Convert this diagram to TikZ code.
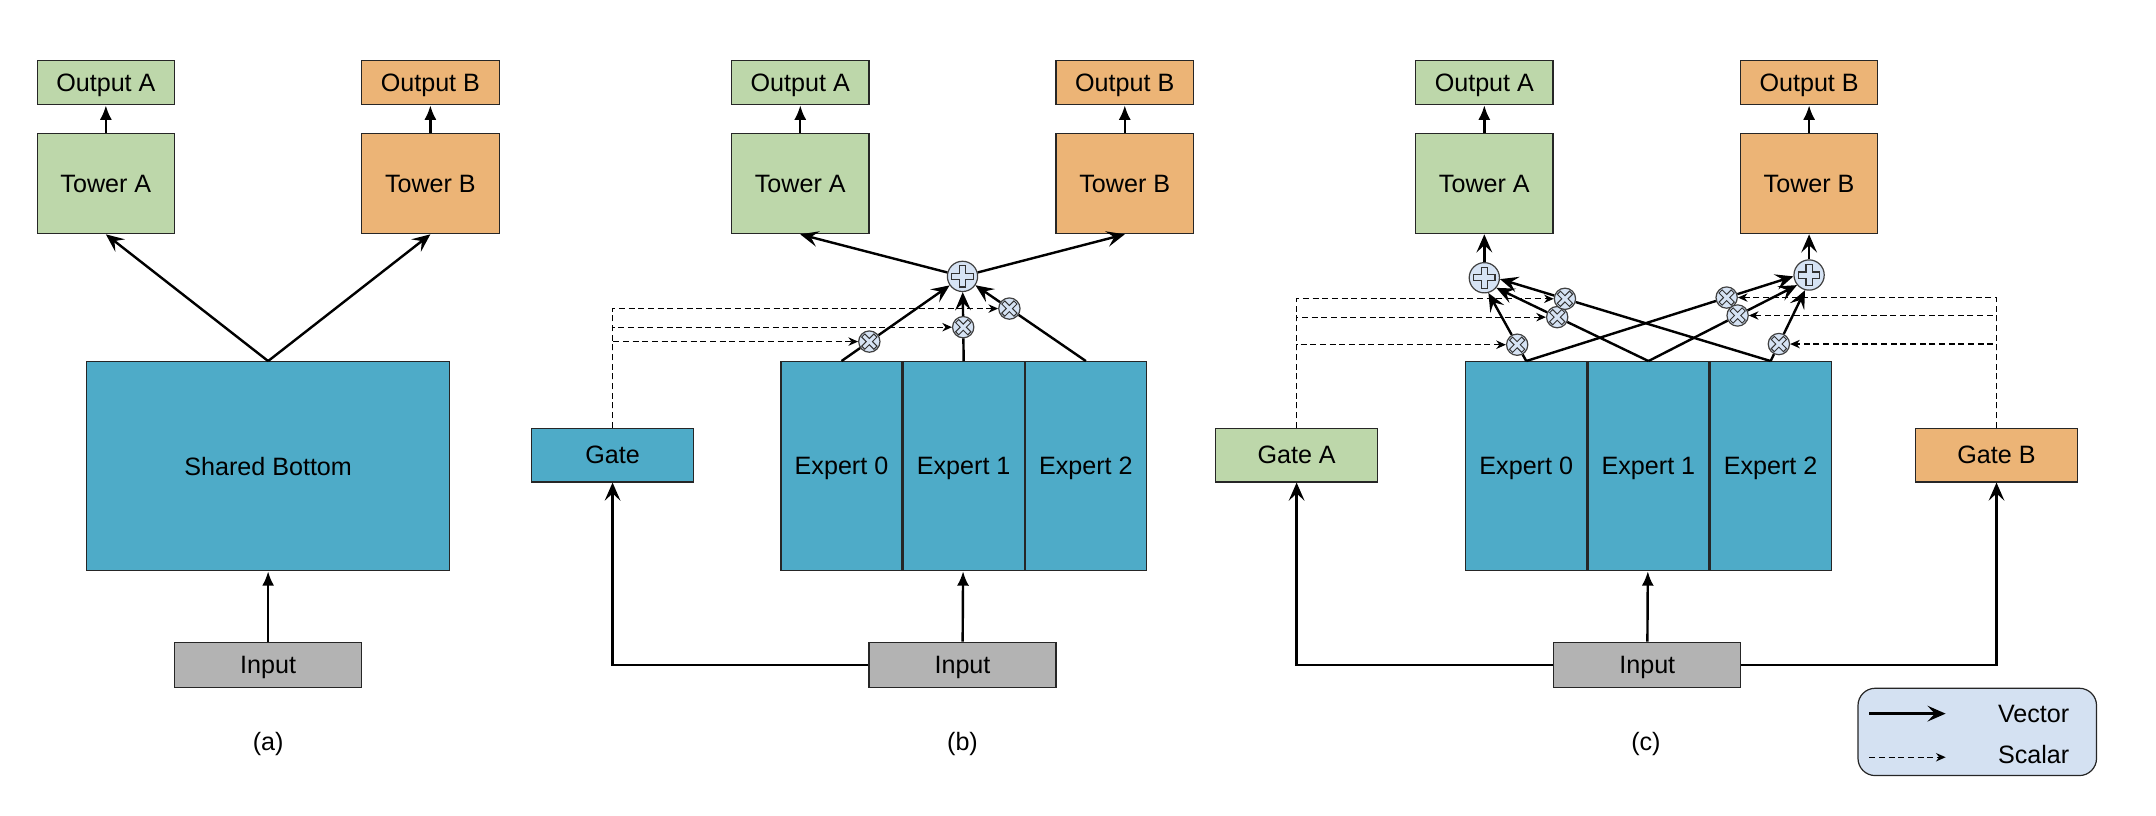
\documentclass[tikz,border=0pt]{standalone}
\usepackage{fontspec}
\setmainfont{Liberation Sans}
\usetikzlibrary{shapes,arrows,arrows.meta,positioning,calc}
\definecolor{towgreen}{HTML}{BDD7AA}
\definecolor{toworange}{HTML}{ECB476}
\definecolor{expblue}{HTML}{4EABC8}
\definecolor{ingray}{HTML}{B3B3B3}
\definecolor{opfill}{HTML}{D6E3F4}
\definecolor{legfill}{HTML}{D4E1F2}
\tikzstyle{block} = [rectangle, draw=black!85, line width=0.5pt, inner sep=0pt, text depth=0pt, text centered]
\tikzstyle{outbox} = [block, minimum width=2cm, minimum height=0.64cm]
\tikzstyle{tower} = [block, minimum width=2cm, minimum height=1.46cm]
\tikzstyle{expert} = [block, fill=expblue, minimum width=1.76cm, minimum height=3.04cm]
\tikzstyle{inbox} = [block, fill=ingray, minimum width=2.72cm, minimum height=0.66cm]
\tikzstyle{gatebox} = [block, minimum width=2.36cm, minimum height=0.78cm]
\tikzstyle{sumop} = [circle, draw=black!75, fill=opfill, line width=0.5pt, minimum size=0.44cm, inner sep=0pt,
  path picture={\draw[x=1mm, y=1mm, black!80, line width=0.5pt, fill=opfill, shift={(path picture bounding box.center)}]
    (-.45,1.55) -- (.45,1.55) -- (.45,.45) -- (1.55,.45) -- (1.55,-.45) -- (.45,-.45) -- (.45,-1.55)
    -- (-.45,-1.55) -- (-.45,-.45) -- (-1.55,-.45) -- (-1.55,.45) -- (-.45,.45) -- cycle;}]
\tikzstyle{multop} = [circle, draw=black!75, fill=opfill, line width=0.5pt, minimum size=0.31cm, inner sep=0pt,
  path picture={\draw[x=1mm, y=1mm, black!80, line width=0.4pt, fill=opfill, shift={(path picture bounding box.center)}]
    (-1.11,.66) -- (-.66,1.11) -- (0,.45) -- (.66,1.11) -- (1.11,.66) -- (.45,0) -- (1.11,-.66)
    -- (.66,-1.11) -- (0,-.45) -- (-.66,-1.11) -- (-1.11,-.66) -- (-.45,0) -- cycle;}]
\tikzstyle{plain} = [draw, line width=1pt]
\tikzstyle{line} = [draw, line width=1pt, -{Stealth[length=7.5pt,width=6.5pt,inset=3pt]}]
\tikzstyle{fatline} = [draw, line width=1pt, -{Latex[length=6pt,width=5pt]}]
\tikzstyle{scalar} = [draw, line width=0.5pt, dash pattern=on 2.5pt off 1.5pt, -{Stealth[length=4pt,width=3.5pt]}]

\begin{document}
\begin{tikzpicture}[x=0.02cm, y=-0.02cm, font=\fontsize{10.4pt}{12.5pt}\selectfont]
      \useasboundingbox (0,0) rectangle (1568,593);

      \node [tower, fill=towgreen] (ata) at (77,133.5) {Tower A};
      \node [outbox, fill=towgreen, above=0.4cm of ata] (aoa) {Output A};
      \node [tower, fill=toworange] (atb) at (313,133.5) {Tower B};
      \node [outbox, fill=toworange, above=0.4cm of atb] (aob) {Output B};
      \node [block, fill=expblue, minimum width=5.28cm, minimum height=3.04cm] (ash) at (195,339) {Shared Bottom};
      \node [inbox] (ain) at (195,483.5) {Input};
      \node (alab) at (195,541) {(a)};

      \path [fatline] (ain) -- (ash);
      \path [line] (ash.north) -- (ata.south);
      \path [line] (ash.north) -- (atb.south);
      \path [fatline] (ata) -- (aoa);
      \path [fatline] (atb) -- (aob);

      \node [tower, fill=towgreen] (bta) at (582,133.5) {Tower A};
      \node [outbox, fill=towgreen, above=0.4cm of bta] (boa) {Output A};
      \node [tower, fill=toworange] (btb) at (818,133.5) {Tower B};
      \node [outbox, fill=toworange, above=0.4cm of btb] (bob) {Output B};
      \node [expert] (be0) at (612,339) {Expert 0};
      \node [expert, right=0pt of be0] (be1) {Expert 1};
      \node [expert, right=0pt of be1] (be2) {Expert 2};
      \node [sumop] (bsum) at (700,201) {};
      \node [multop] (bm0) at ($(be0.north)!0.23!(bsum)$) {};
      \node [multop] (bm1) at ($(be1.north)!0.4!(bsum)$) {};
      \node [multop] (bm2) at ($(be2.north)!0.62!(bsum)$) {};
      \node [gatebox, fill=expblue] (bgate) at (445.5,331) {Gate};
      \node [inbox] (bin) at (700,483.5) {Input};
      \node (blab) at (700,541) {(b)};

      \path [fatline] (bin) -- (be1);
      \path [line] (bin.west) -| (bgate);
      \path [plain] (be0.north) -- (bm0);
      \path [plain] (be1.north) -- (bm1);
      \path [plain] (be2.north) -- (bm2);
      \path [line] (bm0) -- (bsum);
      \path [line] (bm1) -- (bsum);
      \path [line] (bm2) -- (bsum);
      \path [scalar] (bgate.north) |- (bm0);
      \path [scalar] (bgate.north) |- (bm1);
      \path [scalar] (bgate.north) |- (bm2);
      \path [line] (bsum) -- (bta.south);
      \path [line] (bsum) -- (btb.south);
      \path [fatline] (bta) -- (boa);
      \path [fatline] (btb) -- (bob);

      \node [tower, fill=towgreen] (cta) at (1079.5,133.5) {Tower A};
      \node [outbox, fill=towgreen, above=0.4cm of cta] (coa) {Output A};
      \node [tower, fill=toworange] (ctb) at (1315.7,133.5) {Tower B};
      \node [outbox, fill=toworange, above=0.4cm of ctb] (cob) {Output B};
      \node [expert] (cx0) at (1110,339) {Expert 0};
      \node [expert, right=0pt of cx0] (cx1) {Expert 1};
      \node [expert, right=0pt of cx1] (cx2) {Expert 2};
      \node [sumop] (csa) at (1079.5,202) {};
      \node [sumop] (csb) at (1315.7,200) {};
      \node [multop] (ma0) at ($(cx0.north)!0.24!(csa.-75)$) {};
      \node [multop] (ma1) at ($(cx1.north)!0.6!(csa.-40)$) {};
      \node [multop] (ma2) at ($(cx2.north)!0.76!(csa.-5)$) {};
      \node [multop] (mb0) at ($(cx0.north)!0.75!(csb.185)$) {};
      \node [multop] (mb1) at ($(cx1.north)!0.6!(csb.-140)$) {};
      \node [multop] (mb2) at ($(cx2.north)!0.24!(csb.-105)$) {};
      \node [gatebox, fill=towgreen] (cga) at (943,331) {Gate A};
      \node [gatebox, fill=toworange] (cgb) at (1452,331) {Gate B};
      \node [inbox] (cin) at (1198,483.5) {Input};
      \node (clab) at (1197,541) {(c)};

      \path [fatline] (cin) -- (cx1);
      \path [line] (cin.west) -| (cga);
      \path [line] (cin.east) -| (cgb);
      \path [plain] (cx0.north) -- (ma0);
      \path [plain] (cx1.north) -- (ma1);
      \path [plain] (cx2.north) -- (ma2);
      \path [plain] (cx0.north) -- (mb0);
      \path [plain] (cx1.north) -- (mb1);
      \path [plain] (cx2.north) -- (mb2);
      \path [line] (ma0) -- (csa.-75);
      \path [line] (ma1) -- (csa.-40);
      \path [line] (ma2) -- (csa.-5);
      \path [line] (mb0) -- (csb.185);
      \path [line] (mb1) -- (csb.-140);
      \path [line] (mb2) -- (csb.-105);
      \path [scalar] (cga.north) |- (ma0);
      \path [scalar] (cga.north) |- (ma1);
      \path [scalar] (cga.north) |- (ma2);
      \path [scalar] (cgb.north) |- (mb0);
      \path [scalar] (cgb.north) |- (mb1);
      \path [scalar] (cgb.north) |- (mb2);
      \path [line] (csa) -- (cta);
      \path [line] (csb) -- (ctb);
      \path [fatline] (cta) -- (coa);
      \path [fatline] (ctb) -- (cob);

      \node [draw=black!85, fill=legfill, line width=0.5pt, rounded corners=0.25cm, minimum width=3.47cm, minimum height=1.27cm] (leg) at (1438,532.3) {};
      \coordinate (lv0) at (1359.5,519);
      \coordinate (lv1) at (1415,519);
      \coordinate (ls0) at (1359.5,550.7);
      \coordinate (ls1) at (1415,550.7);
      \path [line] (lv0) -- (lv1);
      \path [scalar] (ls0) -- (ls1);
      \node (lvec) at (1479,519) {Vector};
      \node (lsca) at (1479,549) {Scalar};
    \end{tikzpicture}
\end{document}
